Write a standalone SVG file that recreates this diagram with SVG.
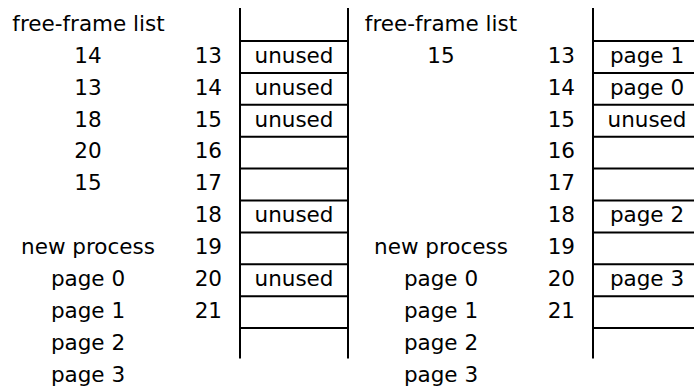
<svg xmlns="http://www.w3.org/2000/svg" width="694" height="387" viewBox="0 0 694 387">
<style>
text{font-family:"DejaVu Sans","Liberation Sans",sans-serif;font-size:21.5px;fill:#000}
.c{text-anchor:middle}
.r{text-anchor:end}
.ln{stroke:#000;stroke-width:2;fill:none}
</style>
<rect width="694" height="387" fill="#fff"/>
<g id="before">
  <g id="before-freelist">
    <text class="c" x="88.5" y="31">free-frame list</text>
    <text class="c" x="88" y="63">14</text>
    <text class="c" x="88" y="95">13</text>
    <text class="c" x="88" y="127">18</text>
    <text class="c" x="88" y="158">20</text>
    <text class="c" x="88" y="190">15</text>
  </g>
  <g id="before-process">
    <text class="c" x="88" y="254">new process</text>
    <text class="c" x="88" y="286">page 0</text>
    <text class="c" x="88" y="318">page 1</text>
    <text class="c" x="88" y="350">page 2</text>
    <text class="c" x="88" y="382">page 3</text>
  </g>
  <g id="before-frame-numbers">
    <text class="r" x="222" y="63">13</text>
    <text class="r" x="222" y="95">14</text>
    <text class="r" x="222" y="127">15</text>
    <text class="r" x="222" y="158">16</text>
    <text class="r" x="222" y="190">17</text>
    <text class="r" x="222" y="222">18</text>
    <text class="r" x="222" y="254">19</text>
    <text class="r" x="222" y="286">20</text>
    <text class="r" x="222" y="318">21</text>
  </g>
  <g id="before-memory">
    <path class="ln" d="M240 8V358.5M348 8V358.5M240 41H348M240 72.9H348M240 104.8H348M240 136.7H348M240 168.6H348M240 200.5H348M240 232.4H348M240 264.3H348M240 296.2H348M240 328.1H348"/>
    <text class="c" x="294" y="63">unused</text>
    <text class="c" x="294" y="95">unused</text>
    <text class="c" x="294" y="127">unused</text>
    <text class="c" x="294" y="222">unused</text>
    <text class="c" x="294" y="286">unused</text>
  </g>
</g>
<g id="after">
  <g id="after-freelist">
    <text class="c" x="441" y="31">free-frame list</text>
    <text class="c" x="441" y="63">15</text>
  </g>
  <g id="after-process">
    <text class="c" x="441" y="254">new process</text>
    <text class="c" x="441" y="286">page 0</text>
    <text class="c" x="441" y="318">page 1</text>
    <text class="c" x="441" y="350">page 2</text>
    <text class="c" x="441" y="382">page 3</text>
  </g>
  <g id="after-frame-numbers">
    <text class="r" x="575" y="63">13</text>
    <text class="r" x="575" y="95">14</text>
    <text class="r" x="575" y="127">15</text>
    <text class="r" x="575" y="158">16</text>
    <text class="r" x="575" y="190">17</text>
    <text class="r" x="575" y="222">18</text>
    <text class="r" x="575" y="254">19</text>
    <text class="r" x="575" y="286">20</text>
    <text class="r" x="575" y="318">21</text>
  </g>
  <g id="after-memory">
    <path class="ln" d="M593 8V358.5M593 41H701M593 72.9H701M593 104.8H701M593 136.7H701M593 168.6H701M593 200.5H701M593 232.4H701M593 264.3H701M593 296.2H701M593 328.1H701"/>
    <text class="c" x="647" y="63">page 1</text>
    <text class="c" x="647" y="95">page 0</text>
    <text class="c" x="647" y="127">unused</text>
    <text class="c" x="647" y="222">page 2</text>
    <text class="c" x="647" y="286">page 3</text>
  </g>
</g>
<g id="connectors"/>
</svg>
